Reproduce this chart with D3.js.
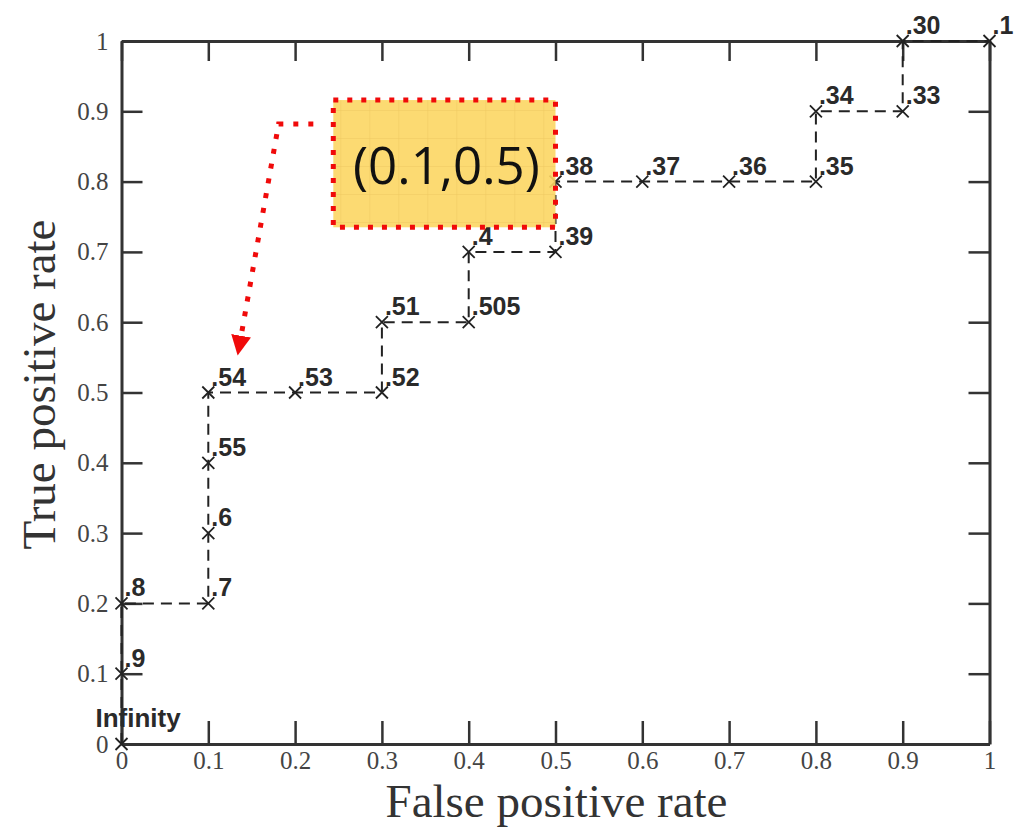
<!DOCTYPE html>
<html>
<head>
<meta charset="utf-8">
<script src="https://cdn.jsdelivr.net/npm/d3@7"></script>
<style>
  body { margin: 0; background: #fff; }
  svg { display: block; }
</style>
</head>
<body>
<svg width="1023" height="827"></svg>
<script>
'use strict';

// ROC points (threshold labels next to each point)
const fpr = [0, 0, 0, 0.1, 0.1, 0.1, 0.1, 0.2, 0.3, 0.3, 0.4, 0.4, 0.5, 0.5, 0.6, 0.7, 0.8, 0.8, 0.9, 0.9, 1];
const tpr = [0, 0.1, 0.2, 0.2, 0.3, 0.4, 0.5, 0.5, 0.5, 0.6, 0.6, 0.7, 0.7, 0.8, 0.8, 0.8, 0.8, 0.9, 0.9, 1, 1];
const thresholds = ["Infinity", ".9", ".8", ".7", ".6", ".55", ".54", ".53", ".52", ".51", ".505",
  ".4", ".39", ".38", ".37", ".36", ".35", ".34", ".33", ".30", ".1"];

const tickValues = [0, 0.1, 0.2, 0.3, 0.4, 0.5, 0.6, 0.7, 0.8, 0.9, 1];
const tickLabels = ["0", "0.1", "0.2", "0.3", "0.4", "0.5", "0.6", "0.7", "0.8", "0.9", "1"];

// callout (data units)
const calloutText = "(0.1,0.5)";
const calloutBox = [[0.244, 0.916], [0.5, 0.735]];
const calloutArrow = [[0.221, 0.882], [0.181, 0.882], [0.137, 0.575]];

const width = 1023, height = 827;
const margin = {left: 121.5, right: 33.5, top: 41, bottom: 83};

let svg = d3.select("svg")
  .attr("viewBox", [0, 0, width, height]);

let x = d3.scaleLinear().domain([0, 1]).range([margin.left, width - margin.right]);
let y = d3.scaleLinear().domain([0, 1]).range([height - margin.bottom, margin.top]);

let points = fpr.map((f, i) => ({x: f, y: tpr[i], label: thresholds[i]}));

const tickFmt = d => tickLabels[tickValues.indexOf(d)];
const frameColor = "#333";

// axes with inward ticks on all four sides
let gx = svg.append("g")
  .attr("transform", `translate(0,${y(0)})`)
  .call(d3.axisBottom(x).tickValues(tickValues).tickFormat(tickFmt).tickSizeInner(-23).tickSizeOuter(0).tickPadding(7));
let gxt = svg.append("g")
  .attr("transform", `translate(0,${y(1)})`)
  .call(d3.axisTop(x).tickValues(tickValues).tickFormat("").tickSizeInner(-20).tickSizeOuter(0));
let gy = svg.append("g")
  .attr("transform", `translate(${x(0)},0)`)
  .call(d3.axisLeft(y).tickValues(tickValues).tickFormat(tickFmt).tickSizeInner(-21).tickSizeOuter(0).tickPadding(13));
let gyr = svg.append("g")
  .attr("transform", `translate(${x(1)},0)`)
  .call(d3.axisRight(y).tickValues(tickValues).tickFormat("").tickSizeInner(-21).tickSizeOuter(0));

[gx, gxt, gy, gyr].forEach(g => {
  g.select(".domain").attr("stroke", frameColor).attr("stroke-width", 3);
  g.selectAll(".tick line").attr("stroke", frameColor).attr("stroke-width", 2.5);
  g.selectAll(".tick text")
    .attr("fill", "#444")
    .style("font-family", "'Liberation Serif', 'Times New Roman', serif")
    .style("font-size", "25px");
});

// axis titles
svg.append("text")
  .attr("x", (x(0) + x(1)) / 2 + 1)
  .attr("y", 817)
  .attr("text-anchor", "middle")
  .attr("fill", "#333")
  .style("font-family", "'Liberation Serif', 'Times New Roman', serif")
  .style("font-size", "47px")
  .text("False positive rate");

svg.append("text")
  .attr("transform", `translate(55,${(y(0) + y(1)) / 2 - 8}) rotate(-90)`)
  .attr("text-anchor", "middle")
  .attr("fill", "#333")
  .style("font-family", "'Liberation Serif', 'Times New Roman', serif")
  .style("font-size", "47px")
  .text("True positive rate");

// ROC step curve
let line = d3.line().x(d => x(d.x)).y(d => y(d.y));

svg.append("path")
  .datum(points)
  .attr("fill", "none")
  .attr("stroke", "#222")
  .attr("stroke-width", 2)
  .attr("stroke-dasharray", "11,7")
  .attr("d", line);

let node = svg.append("g")
  .selectAll("g")
  .data(points)
  .join("g")
    .attr("transform", d => `translate(${x(d.x)},${y(d.y)})`);

node.append("path")
  .attr("d", "M-6,-6L6,6M-6,6L6,-6")
  .attr("stroke", "#222")
  .attr("stroke-width", 1.8)
  .attr("fill", "none");

node.append("text")
  .attr("x", d => d.label === "Infinity" ? -26 : 3)
  .attr("y", d => d.label === "Infinity" ? -17 : -7)
  .attr("fill", "#2a2a2a")
  .style("font-family", "'Liberation Sans', Arial, sans-serif")
  .style("font-weight", "bold")
  .style("font-size", d => d.label === "Infinity" ? "26px" : "25px")
  .text(d => d.label);

// callout box
let defs = svg.append("defs");
let pat = defs.append("pattern")
  .attr("id", "grid")
  .attr("width", 29).attr("height", 28)
  .attr("patternUnits", "userSpaceOnUse")
  .attr("x", x(calloutBox[0][0]) + 7).attr("y", y(calloutBox[0][1]) + 10);
pat.append("rect").attr("width", 29).attr("height", 28).attr("fill", "#fcd663");
pat.append("path").attr("d", "M0,0V28M0,0H29").attr("stroke", "#ecc24e").attr("stroke-width", 1);

let bx0 = x(calloutBox[0][0]), by0 = y(calloutBox[0][1]);
let bx1 = x(calloutBox[1][0]), by1 = y(calloutBox[1][1]);

svg.append("rect")
  .attr("x", bx0).attr("y", by0)
  .attr("width", bx1 - bx0).attr("height", by1 - by0)
  .attr("fill", "url(#grid)")
  .attr("fill-opacity", 0.9)
  .attr("stroke", "#f00a0a")
  .attr("stroke-width", 5)
  .attr("stroke-dasharray", "5,9");

svg.append("text")
  .attr("x", (bx0 + bx1) / 2 + 2)
  .attr("y", by0 + 84)
  .attr("text-anchor", "middle")
  .attr("fill", "#111")
  .style("font-family", "'Open Sans', sans-serif")
  .style("font-size", "51px")
  .text(calloutText);

// dotted arrow to the highlighted point
defs.append("marker")
  .attr("id", "head")
  .attr("viewBox", "0 0 10 10")
  .attr("refX", 2).attr("refY", 5)
  .attr("markerWidth", 4).attr("markerHeight", 4)
  .attr("markerUnits", "strokeWidth")
  .attr("orient", "auto")
  .append("path")
    .attr("d", "M0,0L10,5L0,10Z")
    .attr("fill", "#f00a0a");

svg.append("path")
  .datum(calloutArrow)
  .attr("fill", "none")
  .attr("stroke", "#f00a0a")
  .attr("stroke-width", 5)
  .attr("stroke-dasharray", "5,10")
  .attr("marker-end", "url(#head)")
  .attr("d", line.x(d => x(d[0])).y(d => y(d[1])));
</script>
</body>
</html>
